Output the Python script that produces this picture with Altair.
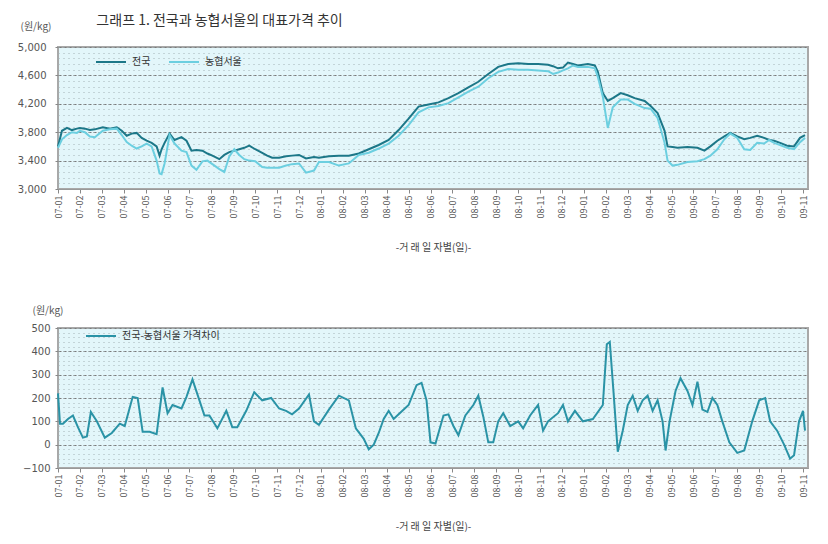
import json
import altair as alt
import pandas as pd

# ---------------- text ----------------
TITLE = "그래프 1. 전국과 농협서울의 대표가격 추이"
UNIT = "(원/kg)"
X_TITLE = "-거 래 일 자별(일)-"
SERIES_TOP = ["전국", "농협서울"]
SERIES_DIFF = "전국-농협서울 가격차이"

# x tick labels (one per ~22 trading days)
TICK_LABELS = [
    "07-01", "07-02", "07-03", "07-04", "07-05", "07-06", "07-07", "07-08",
    "07-09", "07-10", "07-11", "07-12", "08-01", "08-02", "08-03", "08-04",
    "08-05", "08-06", "08-07", "08-08", "08-09", "08-10", "08-11", "08-12",
    "09-01", "09-02", "09-03", "09-04", "09-05", "09-06", "09-07", "09-08",
    "09-09", "09-10", "09-11",
]
TICK_STEP = 22
X_MAX = 753

TOP_Y_TICKS = [3000, 3400, 3800, 4200, 4600, 5000]
DIFF_Y_TICKS = [-100, 0, 100, 200, 300, 400, 500]

# ---------------- data ----------------
DAY_TOP = [
    0, 4, 9, 14, 19, 22, 27, 32, 37, 45,
    52, 59, 64, 69, 74, 79, 84, 89, 94, 99,
    102, 104, 107, 112, 117, 124, 129, 134, 139, 145,
    150, 155, 162, 167, 172, 177, 182, 187, 192, 198,
    205, 210, 215, 222, 229, 235, 242, 249, 257, 262,
    272, 282, 292, 302, 312, 322, 332, 342, 352, 362,
    372, 382, 392, 402, 412, 422, 432, 442, 452, 462,
    472, 482, 492, 497, 502, 507, 512, 517, 522, 532,
    539, 542, 547, 552, 557, 565, 572, 579, 589, 595,
    602, 609, 612, 617, 622, 632, 642, 649, 655, 662,
    669, 675, 682, 689, 695, 702, 709, 714, 719, 725,
    732, 739, 745, 750,
]
NATIONAL = [
    3600, 3820, 3860, 3830, 3850, 3860, 3850, 3830, 3840, 3870,
    3850, 3870, 3820, 3750, 3780, 3790, 3720, 3680, 3650, 3600,
    3470, 3560, 3650, 3780, 3690, 3730, 3680, 3540, 3550, 3540,
    3500, 3470, 3420, 3480, 3520, 3540, 3560, 3580, 3610, 3560,
    3510, 3470, 3440, 3440, 3460, 3470, 3480, 3430, 3450, 3440,
    3460, 3470, 3470, 3500, 3560, 3620, 3690, 3830, 3990, 4160,
    4190, 4220, 4280, 4350, 4430, 4510, 4620, 4720, 4760, 4770,
    4760, 4760, 4750, 4730, 4700, 4710, 4780, 4760, 4740, 4760,
    4740, 4650, 4350, 4240, 4280, 4350, 4320, 4280, 4240, 4170,
    4070, 3820, 3600, 3590, 3580, 3590, 3580, 3540, 3600, 3680,
    3740, 3790, 3740, 3700, 3720, 3750, 3720, 3690, 3680, 3650,
    3610, 3600, 3720, 3760,
]
SEOUL = [
    3580, 3700, 3760, 3800, 3790, 3820, 3800, 3740, 3730, 3820,
    3840, 3850, 3760, 3660, 3610, 3570, 3600, 3640, 3600, 3400,
    3220, 3210, 3360, 3760, 3640, 3540, 3520, 3330, 3270, 3390,
    3400, 3350, 3280, 3240, 3460, 3560, 3480, 3420, 3400, 3390,
    3310, 3300, 3300, 3300, 3330, 3350, 3360, 3230, 3260, 3380,
    3380, 3330, 3360, 3480, 3510, 3570, 3640, 3750, 3900, 4080,
    4150, 4170, 4210, 4290, 4370, 4440, 4560, 4650, 4690, 4680,
    4680, 4670, 4660, 4620, 4640, 4670, 4700, 4740, 4720, 4720,
    4700, 4580, 4300, 3860, 4150, 4260, 4260, 4200, 4140, 4130,
    4000, 3650, 3400, 3330, 3340, 3380, 3390, 3420, 3470, 3560,
    3700, 3780, 3720, 3560, 3550, 3650, 3640, 3690, 3650, 3620,
    3580, 3560, 3660, 3720,
]

DAY_DIFF = [
    0, 2, 5, 10, 15, 20, 25, 29, 33, 39,
    47, 54, 62, 67, 75, 80, 85, 92, 99, 105,
    110, 115, 124, 129, 135, 142, 147, 152, 160, 169,
    175, 180, 189, 197, 205, 214, 222, 229, 235, 242,
    252, 257, 262, 272, 282, 292, 299, 307, 312, 317,
    322, 327, 332, 337, 342, 352, 360, 365, 370, 374,
    379, 387, 392, 397, 402, 409, 417, 422, 427, 432,
    437, 442, 447, 454, 462, 467, 474, 482, 487, 492,
    502, 507, 512, 519, 527, 537, 547, 551, 554, 558,
    562, 567, 572, 577, 582, 587, 592, 597, 602, 607,
    610, 614, 620, 625, 632, 637, 642, 647, 652, 657,
    662, 667, 674, 682, 689, 697, 704, 710, 715, 722,
    729, 735, 739, 744, 748, 750,
]
DIFF = [
    220, 90, 90, 110, 125, 75, 30, 35, 140, 100,
    30, 50, 90, 80, 205, 200, 55, 55, 45, 245,
    135, 170, 155, 205, 280, 190, 125, 125, 70, 145,
    75, 75, 145, 225, 190, 200, 155, 145, 130, 155,
    215, 100, 85, 150, 210, 190, 70, 25, -20, 0,
    50, 110, 145, 110, 130, 170, 255, 265, 190, 10,
    5, 125, 130, 80, 40, 125, 170, 210, 120, 10,
    10, 100, 135, 80, 100, 70, 125, 170, 60, 100,
    135, 170, 100, 145, 100, 110, 170, 430, 440, 210,
    -30, 60, 170, 210, 145, 190, 210, 145, 190, 100,
    -25, 100, 230, 285, 230, 170, 270, 150, 140, 200,
    170, 100, 10, -35, -25, 100, 190, 200, 100, 60,
    0, -60, -45, 100, 145, 60,
]

# ---------------- style ----------------
FONT = "Noto Sans CJK KR"
C_NAT = "#1c7788"
C_SEO = "#6ccfe0"
C_DIF = "#2a93a6"
BG = "#e3f6fa"
DOT = "#a3b3b7"
GRID = "#7a7a7a"

tick_pos = [i * TICK_STEP for i in range(len(TICK_LABELS))]
label_expr = json.dumps(TICK_LABELS) + f"[round(datum.value / {TICK_STEP})]"

X_SCALE = alt.Scale(domain=[0, X_MAX], nice=False, zero=False)
X_AXIS = alt.Axis(
    values=tick_pos, labelExpr=label_expr, labelAngle=-90,
    labelFontSize=9, labelColor="#555", labelFont=FONT, labelPadding=2,
    tickSize=4, tickColor="#888", domainColor="#999", grid=False,
    title=X_TITLE, titleFont=FONT, titleFontSize=10, titleFontWeight="normal",
    titleColor="#444", titlePadding=24,
)


def panel(df, field, domain, yticks, dot_step, colors, legend, height, label_pad, unit_x, unit_y):
    yscale = alt.Scale(domain=domain, nice=False, zero=False)
    n_dots = int(round((domain[1] - domain[0]) / dot_step))
    dot_vals = [domain[0] + dot_step * k for k in range(n_dots + 1)]
    lines = alt.Chart(df).mark_line(strokeWidth=2).encode(
        x=alt.X("day:Q", scale=X_SCALE, axis=X_AXIS),
        y=alt.Y(f"{field}:Q", scale=yscale,
                axis=alt.Axis(values=yticks, labelExpr="format(datum.value, ',')",
                              orient="left", grid=True, gridColor=GRID,
                              gridDash=[3, 2], gridWidth=1, labelFontSize=10,
                              labelColor="#555", labelFont="DejaVu Sans",
                              tickSize=3, tickColor="#888", domain=False,
                              labelPadding=label_pad, title=UNIT, titleAngle=0,
                              titleAlign="left", titleBaseline="middle",
                              titleX=unit_x, titleY=unit_y, titleFont=FONT,
                              titleFontSize=10, titleFontWeight="normal",
                              titleColor="#555")),
        color=alt.Color("series:N",
                        scale=alt.Scale(domain=colors[0], range=colors[1]),
                        sort=colors[0], legend=legend),
        order="day:Q",
    )
    dots = alt.Chart(df).mark_line(opacity=0).encode(
        x=alt.X("day:Q", scale=X_SCALE, axis=X_AXIS),
        y=alt.Y(f"{field}:Q", scale=yscale,
                axis=alt.Axis(values=dot_vals, grid=True, gridColor=DOT, gridDash=[1, 4],
                              gridWidth=1, labels=False, ticks=False, domain=False,
                              title=None, orient="left")),
    )
    return alt.layer(lines, dots).resolve_axis(y="independent").properties(
        width=750, height=height,
        view=alt.ViewBackground(fill=BG, stroke="#a8a8a8", strokeWidth=2))


top_df = pd.DataFrame({
    "day": DAY_TOP + DAY_TOP,
    "price": NATIONAL + SEOUL,
    "series": [SERIES_TOP[0]] * len(DAY_TOP) + [SERIES_TOP[1]] * len(DAY_TOP),
})
diff_df = pd.DataFrame({"day": DAY_DIFF, "diff": DIFF, "series": [SERIES_DIFF] * len(DAY_DIFF)})

top_legend = alt.Legend(orient="none", legendX=37, legendY=-1, direction="horizontal",
                        title=None, symbolType="stroke", symbolSize=900,
                        symbolStrokeWidth=2, labelFont=FONT, labelFontSize=10,
                        labelColor="#333", columnPadding=14, labelOffset=5)
diff_legend = alt.Legend(orient="none", legendX=27, legendY=-8, direction="horizontal",
                         title=None, symbolType="stroke", symbolSize=900,
                         symbolStrokeWidth=2, labelFont=FONT, labelFontSize=10,
                         labelColor="#333", labelOffset=5)

top = panel(top_df, "price", [3000, 5000], TOP_Y_TICKS, 80,
            (SERIES_TOP, [C_NAT, C_SEO]), top_legend, 142, 9, -38, -21)
bottom = panel(diff_df, "diff", [-100, 500], DIFF_Y_TICKS, 20,
               ([SERIES_DIFF], [C_DIF]), diff_legend, 140, 5, -26, -18)

chart = alt.vconcat(top, bottom, spacing=50).properties(
    title=alt.TitleParams(TITLE, anchor="start", fontSize=14, font=FONT,
                          fontWeight="normal", color="#333", offset=-8, dx=80),
    padding={"left": 8, "top": 6, "right": 5, "bottom": 5},
).resolve_scale(color="independent").configure(font=FONT)

chart.save("out.html", embed_options={"renderer": "svg", "actions": False})
